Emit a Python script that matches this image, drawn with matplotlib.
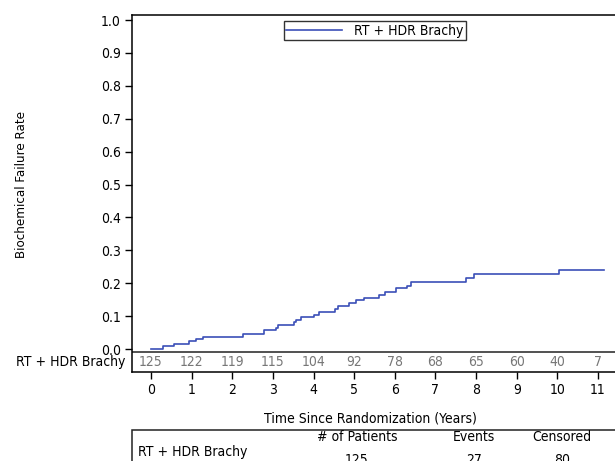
import numpy as np
import matplotlib
matplotlib.use('Agg')
import matplotlib.pyplot as plt
from matplotlib.patches import Rectangle

# ---------- Dados ----------
times = [0, 0.30, 0.57, 0.94, 1.10, 1.29, 2.26, 2.77, 3.08, 3.12, 3.53, 3.56,
         3.69, 4.02, 4.14, 4.53, 4.61, 4.88, 5.04, 5.25, 5.62, 5.75, 6.03,
         6.31, 6.39, 7.76, 7.94, 10.03, 11.14]
rates = [0, 0.009, 0.016, 0.024, 0.031, 0.038, 0.047, 0.057, 0.065, 0.073,
         0.081, 0.089, 0.096, 0.104, 0.113, 0.122, 0.132, 0.140, 0.148, 0.156,
         0.165, 0.174, 0.185, 0.193, 0.204, 0.216, 0.227, 0.240, 0.240]
risk_years = list(range(12))
at_risk = [125, 122, 119, 115, 104, 92, 78, 68, 65, 60, 40, 7]
group = 'RT + HDR Brachy'
summary_headers = ['# of Patients', 'Events', 'Censored']
summary_values = ['125', '27', '80']

# ---------- Fonte ----------
plt.rcParams['font.family'] = 'DejaVu Sans'
plt.rcParams['font.stretch'] = 'condensed'
plt.rcParams['font.size'] = 10

fig = plt.figure(figsize=(6.15, 4.61), dpi=100)
W, H = 615, 461
ax = fig.add_axes([132 / W, 1 - 372 / H, 1 - 132 / W, (372 - 15) / H])

ax.step(times, rates, where='post', color='#3b4fb8', lw=1.2, label=group)

ax.set_xlim(-0.4675, 11.418)
ax.set_ylim(-0.0699, 1.0152)
ax.set_xticks(risk_years)
ax.set_yticks(np.arange(0, 1.01, 0.1))
ax.yaxis.set_major_formatter(matplotlib.ticker.FormatStrFormatter('%.1f'))
ax.tick_params(direction='out', length=5, width=1, pad=3, labelsize=10)
ax.spines['right'].set_visible(False)
for s in ['left', 'top', 'bottom']:
    ax.spines[s].set_linewidth(1.1)

# linha base do gráfico (topo da tabela de risco)
ax.axhline(-0.009, color='#222222', lw=1.1)

# números em risco
for yr, n in zip(risk_years, at_risk):
    ax.text(yr, -0.0395, str(n), ha='center', va='center', color='#777777', fontsize=10)
ax.text(-0.0145, -0.0395, group,
        transform=matplotlib.transforms.blended_transform_factory(ax.transAxes, ax.transData),
        ha='right', va='center', fontsize=10)

ax.set_ylabel('Biochemical Failure Rate', fontsize=9.5)
ax.yaxis.set_label_coords(-0.216, 0.525)

leg = ax.legend(loc='upper center', bbox_to_anchor=(0.503, 0.982), frameon=True, fancybox=False,
                edgecolor='black', borderpad=0.15, handlelength=4.0, handletextpad=0.9, fontsize=10,
                borderaxespad=0)
leg.get_frame().set_linewidth(1.0)

fig.text(370 / W, 1 - 418 / H, 'Time Since Randomization (Years)', ha='center', va='center', fontsize=10)

# ---------- Tabela resumo ----------
fig.add_artist(Rectangle((132 / W, -0.05), 1, 0.05 + (1 - 430 / H), transform=fig.transFigure,
                         fill=False, edgecolor='#222222', lw=1.1, clip_on=False))
for xc, htxt, val in zip([357, 474, 562], summary_headers, summary_values):
    fig.text(xc / W, 1 - 437 / H, htxt, ha='center', va='center', fontsize=10)
    fig.text(xc / W, 1 - 460 / H, val, ha='center', va='center', fontsize=10)
fig.text(138 / W, 1 - 452 / H, group, ha='left', va='center', fontsize=10)

fig.savefig('out.png', dpi=100)
